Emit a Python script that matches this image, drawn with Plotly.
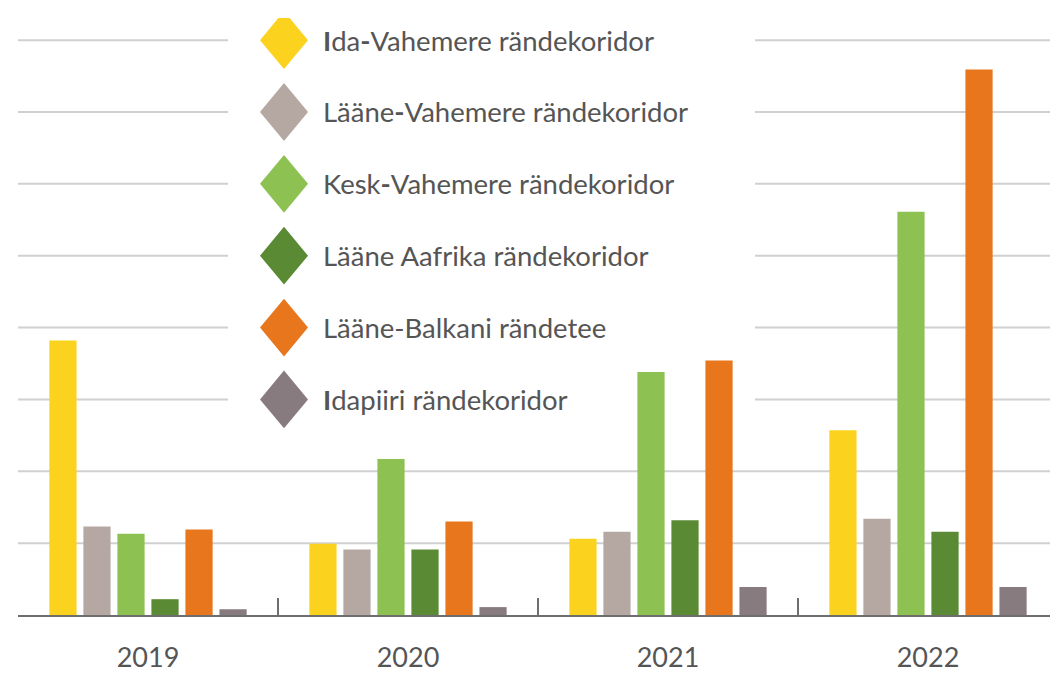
import plotly.graph_objects as go

# ---------------- data ----------------
years = ["2019", "2020", "2021", "2022"]

series_names = [
    "Ida-Vahemere rändekoridor",
    "Lääne-Vahemere rändekoridor",
    "Kesk-Vahemere rändekoridor",
    "Lääne Aafrika rändekoridor",
    "Lääne-Balkani rändetee",
    "Idapiiri rändekoridor",
]
legend_labels = [
    "<b>I</b>da<b>-</b>Vahemere rändekoridor",
    "Lääne<b>-</b>Vahemere rändekoridor",
    "Kesk<b>-</b>Vahemere rändekoridor",
    "Lääne Aafrika rändekoridor",
    "Lääne-Balkani rändetee",
    "<b>I</b>dapiiri rändekoridor",
]

ida_vahemere = [3.82, 0.99, 1.06, 2.57]
laane_vahemere = [1.23, 0.91, 1.16, 1.34]
kesk_vahemere = [1.13, 2.17, 3.38, 5.61]
laane_aafrika = [0.22, 0.91, 1.32, 1.16]
laane_balkani = [1.19, 1.30, 3.54, 7.59]
idapiiri = [0.08, 0.11, 0.39, 0.39]

series_values = [ida_vahemere, laane_vahemere, kesk_vahemere,
                 laane_aafrika, laane_balkani, idapiiri]

colors = ["#FBD21E", "#B5A8A3", "#8DC152", "#5A8A34", "#E8761C", "#887B80"]

grid_levels = [1, 2, 3, 4, 5, 6, 7, 8]

# ---------------- layout constants ----------------
OFF = 8                      # page body margin offset
W, H = 1058 - OFF, 673 - OFF
ML, MR, MT, MB = 10, 0, 10, 56
UNIT_PX = 72.1
plot_w = W - ML - MR
plot_h = H - MT - MB
ymax = plot_h / UNIT_PX

fig = go.Figure()
for name, vals, col in zip(series_names, series_values, colors):
    fig.add_trace(go.Bar(x=years, y=vals, name=name, marker_color=col,
                         marker_line_width=0, showlegend=False))


def px_to_paper(px):
    return (px - OFF - ML) / plot_w


# gridlines (interrupted behind the legend block)
box_l, box_r, box_bottom = px_to_paper(228), px_to_paper(755), 2.5
GRID = dict(color="#d0d0d0", width=2)
shapes = []
for g in grid_levels:
    if g > box_bottom:
        segs = [(0, box_l), (box_r, 1)]
    else:
        segs = [(0, 1)]
    for a, b in segs:
        shapes.append(dict(type="line", xref="paper", yref="y", x0=a, x1=b,
                           y0=g, y1=g, line=GRID, layer="below"))

# custom legend (diamonds + labels), rows aligned with gridlines
legend_levels = [8, 7, 6, 5, 4, 3]
cx = px_to_paper(284)
hw = 24 / plot_w
hh = 29 / UNIT_PX
annotations = []
for lvl, col, lab in zip(legend_levels, colors, legend_labels):
    path = (f"M {cx - hw} {lvl} L {cx} {lvl + hh} L {cx + hw} {lvl} "
            f"L {cx} {lvl - hh} Z")
    shapes.append(dict(type="path", xref="paper", yref="y", path=path,
                       fillcolor=col, line_width=0, layer="above"))
    annotations.append(dict(xref="paper", yref="y", x=px_to_paper(321), y=lvl,
                            text=lab, showarrow=False, xanchor="left",
                            yanchor="middle",
                            font=dict(family="Lato", size=27.5, color="#555555")))

fig.update_layout(
    width=W, height=H,
    margin=dict(l=ML, r=MR, t=MT, b=MB),
    paper_bgcolor="white", plot_bgcolor="white",
    barmode="group", bargap=0.215, bargroupgap=0.2,
    shapes=shapes, annotations=annotations,
    font=dict(family="Lato", color="#555555"),
)
fig.update_xaxes(
    type="category", showline=True, linecolor="#6e6e6e", linewidth=2,
    ticks="inside", ticklen=17, tickwidth=2, tickcolor="#6e6e6e",
    tickson="boundaries", ticklabelstandoff=18, showgrid=False,
    tickfont=dict(family="Lato", size=27, color="#555555"),
)
fig.update_yaxes(
    range=[0, ymax], showgrid=False, showticklabels=False,
    zeroline=False, ticks="",
)

fig.write_html("out.html")
